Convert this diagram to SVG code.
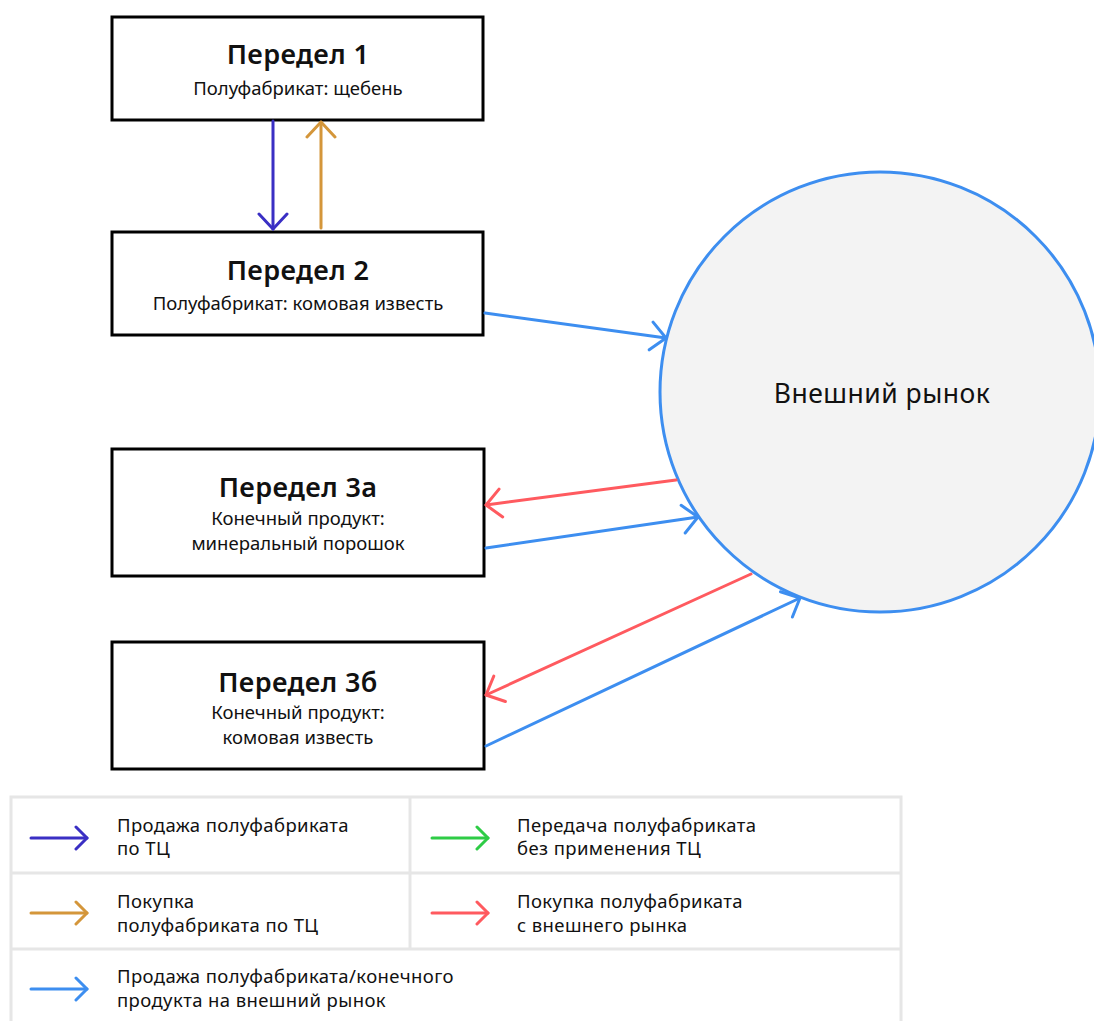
<svg xmlns="http://www.w3.org/2000/svg" width="1094" height="1021" viewBox="0 0 1094 1021">
<style>
.box{fill:#fff;stroke:#000;stroke-width:3}
.t{font-family:"Noto Sans","Liberation Sans",sans-serif;fill:#111;text-anchor:middle}
.h{font-size:27px;font-weight:600;letter-spacing:0.4px}
.s{font-size:18.5px}
.l{font-family:"Noto Sans","Liberation Sans",sans-serif;fill:#111;font-size:18.5px;letter-spacing:0.4px}
.c{fill:none;stroke-width:3;stroke-linecap:round;stroke-linejoin:round}
.leg{fill:none;stroke:#e6e6e6;stroke-width:3}
.head{fill:none;stroke-width:3;stroke-linecap:round;stroke-linejoin:round}
</style>
<defs>
<marker id="a-purple" viewBox="0 0 20 32" refX="18" refY="16" markerWidth="20" markerHeight="32" markerUnits="userSpaceOnUse" orient="auto"><path class="head" d="M3 2 L18 16 L3 30" stroke="#3a2fc4"/></marker>
<marker id="a-orange" viewBox="0 0 20 32" refX="18" refY="16" markerWidth="20" markerHeight="32" markerUnits="userSpaceOnUse" orient="auto"><path class="head" d="M3 2 L18 16 L3 30" stroke="#d4963a"/></marker>
<marker id="a-blue" viewBox="0 0 20 32" refX="18" refY="16" markerWidth="20" markerHeight="32" markerUnits="userSpaceOnUse" orient="auto"><path class="head" d="M3 2 L18 16 L3 30" stroke="#3d8ef0"/></marker>
<marker id="a-red" viewBox="0 0 20 32" refX="18" refY="16" markerWidth="20" markerHeight="32" markerUnits="userSpaceOnUse" orient="auto"><path class="head" d="M3 2 L18 16 L3 30" stroke="#ff5a5f"/></marker>
<marker id="l-purple" viewBox="0 0 16 26" refX="14" refY="13" markerWidth="16" markerHeight="26" markerUnits="userSpaceOnUse" orient="auto"><path class="head" d="M3 2 L14 13 L3 24" stroke="#3a2fc4"/></marker>
<marker id="l-orange" viewBox="0 0 16 26" refX="14" refY="13" markerWidth="16" markerHeight="26" markerUnits="userSpaceOnUse" orient="auto"><path class="head" d="M3 2 L14 13 L3 24" stroke="#d4963a"/></marker>
<marker id="l-blue" viewBox="0 0 16 26" refX="14" refY="13" markerWidth="16" markerHeight="26" markerUnits="userSpaceOnUse" orient="auto"><path class="head" d="M3 2 L14 13 L3 24" stroke="#3d8ef0"/></marker>
<marker id="l-red" viewBox="0 0 16 26" refX="14" refY="13" markerWidth="16" markerHeight="26" markerUnits="userSpaceOnUse" orient="auto"><path class="head" d="M3 2 L14 13 L3 24" stroke="#ff5a5f"/></marker>
<marker id="l-green" viewBox="0 0 16 26" refX="14" refY="13" markerWidth="16" markerHeight="26" markerUnits="userSpaceOnUse" orient="auto"><path class="head" d="M3 2 L14 13 L3 24" stroke="#2ecc46"/></marker>
</defs>
<rect width="1094" height="1021" fill="#fff"/>

<g id="market">
<circle cx="880" cy="392" r="220" fill="#f3f3f3" stroke="#3d8ef0" stroke-width="3"/>
<text class="t" x="882" y="403" font-size="26.5px" letter-spacing="0.5px">Внешний рынок</text>
</g>

<g id="peredel1">
<rect class="box" x="112" y="17" width="371" height="103"/>
<text class="t h" x="298" y="64">Передел 1</text>
<text class="t s" x="298" y="95">Полуфабрикат: щебень</text>
</g>

<g id="peredel2">
<rect class="box" x="112" y="232" width="371" height="103"/>
<text class="t h" x="298" y="280">Передел 2</text>
<text class="t s" x="298" y="310">Полуфабрикат: комовая известь</text>
</g>

<g id="peredel3a">
<rect class="box" x="112" y="449" width="372" height="127"/>
<text class="t h" x="298" y="497">Передел 3а</text>
<text class="t s" x="298" y="525">Конечный продукт:</text>
<text class="t s" x="298" y="550">минеральный порошок</text>
</g>

<g id="peredel3b">
<rect class="box" x="112" y="642" width="372" height="127"/>
<text class="t h" x="298" y="692">Передел 3б</text>
<text class="t s" x="298" y="719">Конечный продукт:</text>
<text class="t s" x="298" y="744">комовая известь</text>
</g>

<g id="connectors">
<line class="c" x1="273" y1="121" x2="273" y2="229" stroke="#3a2fc4" marker-end="url(#a-purple)"/>
<line class="c" x1="321" y1="228" x2="321" y2="122" stroke="#d4963a" marker-end="url(#a-orange)"/>
<line class="c" x1="485" y1="313" x2="666" y2="338" stroke="#3d8ef0" marker-end="url(#a-blue)"/>
<line class="c" x1="676" y1="480" x2="486" y2="505" stroke="#ff5a5f" marker-end="url(#a-red)"/>
<line class="c" x1="486" y1="548" x2="698" y2="517" stroke="#3d8ef0" marker-end="url(#a-blue)"/>
<line class="c" x1="751" y1="574" x2="486" y2="695" stroke="#ff5a5f" marker-end="url(#a-red)"/>
<line class="c" x1="486" y1="746" x2="800" y2="598" stroke="#3d8ef0" marker-end="url(#a-blue)"/>
</g>

<g id="legend">
<rect class="leg" x="11" y="797" width="890" height="230"/>
<line class="leg" x1="11" y1="873" x2="901" y2="873"/>
<line class="leg" x1="11" y1="949" x2="901" y2="949"/>
<line class="leg" x1="410" y1="797" x2="410" y2="949"/>
<line class="c" x1="31" y1="838" x2="87" y2="838" stroke="#3a2fc4" marker-end="url(#l-purple)"/>
<text class="l" x="117" y="832">Продажа полуфабриката</text>
<text class="l" x="117" y="855">по ТЦ</text>
<line class="c" x1="432" y1="838" x2="488" y2="838" stroke="#2ecc46" marker-end="url(#l-green)"/>
<text class="l" x="517" y="832">Передача полуфабриката</text>
<text class="l" x="517" y="855">без применения ТЦ</text>
<line class="c" x1="31" y1="913" x2="87" y2="913" stroke="#d4963a" marker-end="url(#l-orange)"/>
<text class="l" x="117" y="908">Покупка</text>
<text class="l" x="117" y="932">полуфабриката по ТЦ</text>
<line class="c" x1="432" y1="913" x2="488" y2="913" stroke="#ff5a5f" marker-end="url(#l-red)"/>
<text class="l" x="517" y="908">Покупка полуфабриката</text>
<text class="l" x="517" y="932">с внешнего рынка</text>
<line class="c" x1="31" y1="989" x2="87" y2="989" stroke="#3d8ef0" marker-end="url(#l-blue)"/>
<text class="l" x="117" y="983">Продажа полуфабриката/конечного</text>
<text class="l" x="117" y="1007">продукта на внешний рынок</text>
</g>
</svg>
